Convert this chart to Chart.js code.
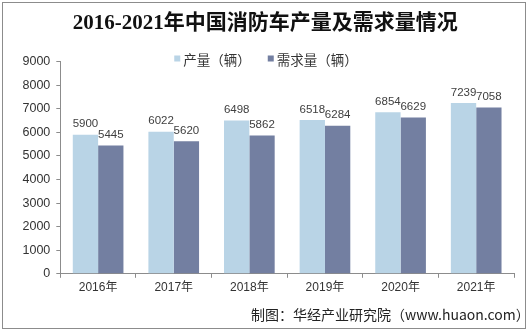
<!DOCTYPE html>
<html>
<head>
<meta charset="utf-8">
<script src="https://cdn.jsdelivr.net/npm/chart.js@4"></script>
<style>
  body { margin: 0; background: #fff; }
  #wrap { position: relative; width: 532px; height: 335px; }
  #frame { position: absolute; left: 2px; top: 2px; width: 524px; height: 327px; border: 1px solid #8c8c8c; box-sizing: border-box; }
  #note { position: absolute; left: 251px; top: 305px; font: 14px "Noto Sans CJK SC", sans-serif; line-height: 18px; color: #222; white-space: nowrap; }
</style>
</head>
<body>
<div id="wrap">
  <canvas id="chart" width="532" height="335"></canvas>
  <div id="frame"></div>
  <div id="note">制图：华经产业研究院（www.huaon.com）</div>
</div>
<script>
const years = ["2016年", "2017年", "2018年", "2019年", "2020年", "2021年"];
const production = [5900, 6022, 6498, 6518, 6854, 7239];
const demand = [5445, 5620, 5862, 6284, 6629, 7058];
const yTicks = [0, 1000, 2000, 3000, 4000, 5000, 6000, 7000, 8000, 9000];

// value labels above each bar
const barLabels = {
  id: "barLabels",
  afterDatasetsDraw(chart) {
    const ctx = chart.ctx;
    ctx.save();
    ctx.font = "11.5px Arial, 'Liberation Sans'";
    ctx.fillStyle = "#404040";
    ctx.textAlign = "center";
    ctx.textBaseline = "bottom";
    chart.data.datasets.forEach((ds, i) => {
      chart.getDatasetMeta(i).data.forEach((bar, j) => {
        ctx.fillText(ds.data[j], bar.x, bar.y - 5);
      });
    });
    ctx.restore();
  },
};

// legend sits right on the top of the plot, so draw it by hand
const topLegend = {
  id: "topLegend",
  afterDraw(chart) {
    const ctx = chart.ctx;
    const box = 6, gap = 3, between = 17, y = 58.5;
    ctx.save();
    ctx.font = "13.5px 'Noto Sans CJK SC'";
    ctx.textBaseline = "middle";
    const items = chart.data.datasets.map((ds) => ({
      text: ds.label,
      color: ds.backgroundColor,
      w: box + gap + ctx.measureText(ds.label).width,
    }));
    const total = items.reduce((s, it) => s + it.w, 0) + between * (items.length - 1);
    let x = chart.width / 2 - total / 2;
    items.forEach((it) => {
      ctx.fillStyle = it.color;
      ctx.fillRect(x, y - box / 2, box, box);
      ctx.fillStyle = "#333";
      ctx.fillText(it.text, x + box + gap, y + 1);
      x += it.w + between;
    });
    ctx.restore();
  },
};

new Chart(document.getElementById("chart"), {
  type: "bar",
  data: {
    labels: years,
    datasets: [
      {
        label: "产量（辆）",
        data: production,
        backgroundColor: "#b9d4e6",
        categoryPercentage: 0.67,
        barPercentage: 1,
      },
      {
        label: "需求量（辆）",
        data: demand,
        backgroundColor: "#737fa1",
        categoryPercentage: 0.67,
        barPercentage: 1,
      },
    ],
  },
  options: {
    responsive: false,
    animation: false,
    layout: { padding: { left: 16.5, right: 18, top: 0, bottom: 38.4 } },
    scales: {
      x: {
        grid: { drawOnChartArea: false, tickLength: 4, color: "#8c8c8c" },
        border: { color: "#8c8c8c" },
        ticks: { color: "#333", font: { size: 12, family: "Arial, 'Noto Sans CJK SC'" }, padding: 2.2 },
      },
      y: {
        min: 0,
        max: 9000,
        afterBuildTicks: (axis) => {
          axis.ticks = yTicks.map((v) => ({ value: v }));
        },
        grid: { drawOnChartArea: false, tickLength: 4, color: "#8c8c8c" },
        border: { color: "#8c8c8c" },
        ticks: {
          color: "#333",
          font: { size: 12.5, family: "Arial" },
          padding: 6,
          callback: (v) => String(v),
        },
      },
    },
    plugins: {
      title: {
        display: true,
        text: "2016-2021年中国消防车产量及需求量情况",
        color: "#111",
        font: { size: 21, weight: "bold", family: "'Liberation Serif', 'Noto Sans CJK SC'" },
        padding: { top: 11, bottom: 25.4 },
      },
      legend: { display: false },
      tooltip: { enabled: false },
    },
  },
  plugins: [barLabels, topLegend],
});
</script>
</body>
</html>
